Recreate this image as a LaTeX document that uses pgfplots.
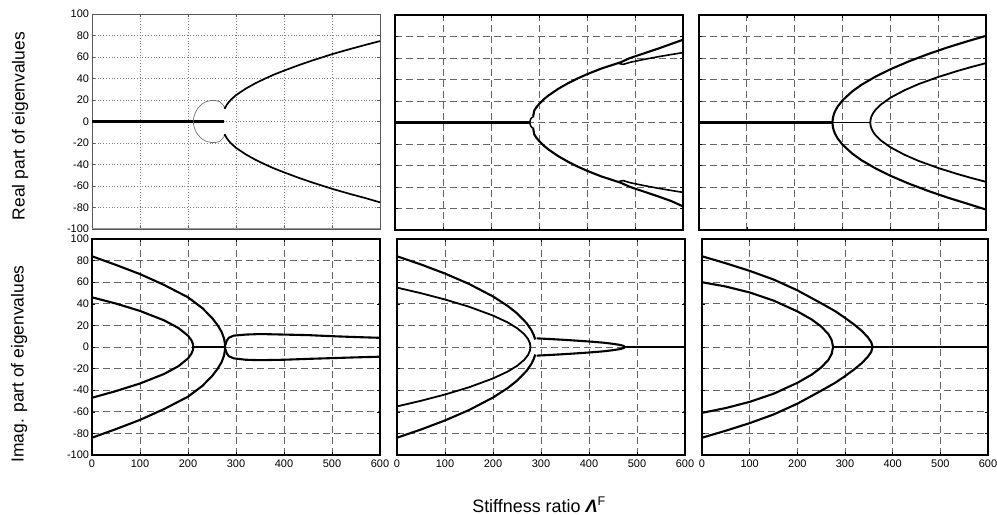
\documentclass[border=0pt]{standalone}
\usepackage{fontspec}
\setmainfont{Liberation Sans}
\usepackage{pgfplots}
\pgfplotsset{compat=1.18}
\pgfplotsset{
  panel/.style={scale only axis, width=288bp, height=215bp,
    xmin=0, xmax=600, ymin=-100, ymax=100,
    xtick={0,100,...,600}, ytick={-100,-80,...,100},
    tick align=inside, major tick length=3bp,
    tick style={black, line width=0.5bp},
    axis line style={black, line width=1.1bp},
    grid=major,
    major grid style={black!60, dash pattern=on 6.5bp off 4.5bp, line width=0.8bp},
    ticklabel style={font=\fontsize{11}{12}\selectfont},
    xticklabel style={yshift=-1bp},
    yticklabel style={xshift=0.5bp},
    /pgf/number format/assume math mode=true,
    anchor=south west},
  nox/.style={xticklabels={}},
  noy/.style={yticklabels={}},
  crv/.style={black, line width=2.1bp, no markers, line join=round},
}
\begin{document}
\begin{tikzpicture}
\path[use as bounding box] (0,0) rectangle (997bp,515bp);

% ---------- top left (real) ----------
\begin{axis}[panel, nox, at={(92bp,286bp)},
  axis line style={black!65, line width=0.6bp},
  tick style={black!65, line width=0.5bp},
  major grid style={black!50, dash pattern=on 0.8bp off 2bp, line width=0.6bp}]
\addplot[black!40, line width=2.2bp] coordinates {(0,-100)(600,-100)};
\addplot[crv, line width=2.4bp] coordinates {(0,0)(275,0)};
\addplot[black!55, line width=0.7bp] coordinates {(211,0)(212,4)(215,8)(220,12)(228,16)(238,18.5)(248,19.5)(258,19.5)(266,18.5)(272,16)(276,13.5)};
\addplot[black!55, line width=0.7bp] coordinates {(211,0)(212,-4)(215,-8)(220,-12)(228,-16)(238,-18.5)(248,-19.5)(258,-19.5)(266,-18.5)(272,-16)(276,-13.5)};
\addplot[crv, line width=1.7bp] coordinates {(276,13.5)(277,12.3)(280,15)(285,18)(290,20.5)(300,24.5)(320,30.5)(340,35.5)(360,39.8)(380,43.8)(400,47.3)(430,52.3)(460,56.9)(500,62.6)(540,67.7)(570,71.3)(600,74.8)};
\addplot[crv, line width=1.7bp] coordinates {(276,-13.5)(277,-12.3)(280,-15)(285,-18)(290,-20.5)(300,-24.5)(320,-30.5)(340,-35.5)(360,-39.8)(380,-43.8)(400,-47.3)(430,-52.3)(460,-56.9)(500,-62.6)(540,-67.7)(570,-71.3)(600,-75.2)};
\end{axis}

% ---------- top middle (real) ----------
\begin{axis}[panel, nox, noy, at={(395bp,285bp)}]
\addplot[crv, line width=2.6bp] coordinates {(0,0)(282,0)};
\addplot[crv, line width=1.5bp] coordinates {(290,5.5)(286,5)(283,3.5)(281.5,1.5)(281,0)(281.5,-1.5)(283,-3.5)(286,-5)(290,-5.5)};
\addplot[crv] coordinates {(288,6)(290,11)(295,14.4)(300,17.1)(310,21.6)(320,25.2)(340,31.3)(360,36.4)(380,40.9)(400,44.9)(430,50.2)(470,56)(490,60)(520,64.5)(550,69)(575,73)(600,77)};
\addplot[crv, line width=1.6bp] coordinates {(466,55)(475,54)(490,56)(520,58.8)(550,61.3)(575,63.2)(600,65)};
\addplot[crv] coordinates {(288,-6)(290,-11)(295,-14.4)(300,-17.1)(310,-21.6)(320,-25.2)(340,-31.3)(360,-36.4)(380,-40.9)(400,-44.9)(430,-50.2)(470,-56)(490,-60)(520,-64.5)(550,-69)(575,-73)(600,-78)};
\addplot[crv, line width=1.6bp] coordinates {(466,-55)(475,-54)(490,-56)(520,-58.8)(550,-61.3)(575,-63.2)(600,-65)};
\end{axis}

% ---------- top right (real) ----------
\begin{axis}[panel, nox, noy, at={(699bp,285bp)}, width=287bp]
\addplot[crv, line width=2.6bp] coordinates {(0,0)(279,0)};
\addplot[crv, line width=1.3bp] coordinates {(279,0)(358,0)};
\addplot[crv] coordinates {(279,0)(280,4.5)(282,7.8)(285,11)(290,14.9)(300,20.6)(320,28.8)(340,35.2)(370,42.9)(400,49.5)(440,57.1)(480,63.8)(520,69.9)(560,75.4)(600,80.6)};
\addplot[crv] coordinates {(279,0)(280,-4.5)(282,-7.8)(285,-11)(290,-14.9)(300,-20.6)(320,-28.8)(340,-35.2)(370,-42.9)(400,-49.5)(440,-57.1)(480,-63.8)(520,-69.9)(560,-75.4)(600,-81)};
\addplot[crv, line width=1.8bp] coordinates {(358,0)(359,3.55)(361,6.15)(365,9.4)(370,12.3)(380,16.65)(400,23)(430,30.1)(460,35.9)(500,42.3)(540,47.9)(570,51.7)(600,55.2)};
\addplot[crv, line width=1.8bp] coordinates {(358,0)(359,-3.55)(361,-6.15)(365,-9.4)(370,-12.3)(380,-16.65)(400,-23)(430,-30.1)(460,-35.9)(500,-42.3)(540,-47.9)(570,-51.7)(600,-55.2)};
\end{axis}

% ---------- bottom left (imag) ----------
\begin{axis}[panel, at={(92bp,60bp)}, height=216bp]
\addplot[crv] coordinates {(0,84)(50,76)(100,67.5)(150,57.5)(200,46)(230,36)(250,27)(262,20)(270,14)(275,8)(277,3)(277.5,0)};
\addplot[crv] coordinates {(0,-84)(50,-76)(100,-67.5)(150,-57.5)(200,-46)(230,-36)(250,-27)(262,-20)(270,-14)(275,-8)(277,-3)(277.5,0)};
\addplot[crv] coordinates {(0,46)(50,40.2)(100,33.4)(150,24.7)(180,17.6)(200,10.5)(207,6.3)(210,3.2)(211,0)};
\addplot[crv] coordinates {(0,-47)(50,-40.8)(100,-33.8)(150,-25)(180,-17.8)(200,-10.6)(207,-6.3)(210,-3.2)(211,0)};
\addplot[crv, line width=1.6bp] coordinates {(211,0)(277,0)};
\addplot[crv] coordinates {(278,2)(279,4)(281,6)(285,8.5)(295,10.5)(320,11.5)(350,12)(400,11.5)(450,11)(500,10)(550,9.2)(600,8.5)};
\addplot[crv] coordinates {(278,-2)(279,-4)(281,-6)(285,-8.5)(295,-10.5)(320,-11.8)(350,-12.2)(400,-11.8)(450,-11)(500,-10.3)(550,-9.6)(600,-9)};
\end{axis}

% ---------- bottom middle (imag) ----------
\begin{axis}[panel, noy, at={(397bp,60bp)}, height=216bp]
\addplot[crv] coordinates {(0,84)(50,76.4)(100,68)(150,58.4)(200,46.8)(230,38.2)(250,31.2)(270,22.1)(280,15.6)(285,11)(288,7)};
\addplot[crv] coordinates {(0,-84)(50,-76.4)(100,-68)(150,-58.4)(200,-46.8)(230,-38.2)(250,-31.2)(270,-22.1)(280,-15.6)(285,-11)(288,-7)};
\addplot[crv, line width=1.8bp] coordinates {(0,55)(50,49.8)(100,44)(150,37.3)(200,29.1)(230,22.9)(250,17.5)(265,11.9)(273,7.4)(277,3.3)(278,0)};
\addplot[crv, line width=1.8bp] coordinates {(0,-55)(50,-49.8)(100,-44)(150,-37.3)(200,-29.1)(230,-22.9)(250,-17.5)(265,-11.9)(273,-7.4)(277,-3.3)(278,0)};
\addplot[crv] coordinates {(291,8)(300,7.8)(330,7.1)(360,6.3)(400,5.1)(430,4)(450,2.95)(465,1.9)(472,1)(475,0)};
\addplot[crv] coordinates {(291,-8)(300,-7.8)(330,-7.1)(360,-6.3)(400,-5.1)(430,-4)(450,-2.95)(465,-1.9)(472,-1)(475,0)};
\addplot[crv, line width=2.4bp] coordinates {(475,0)(600,0)};
\end{axis}

% ---------- bottom right (imag) ----------
\begin{axis}[panel, noy, at={(702bp,60bp)}, height=216bp, width=286bp]
\addplot[crv] coordinates {(0,84)(50,77.5)(100,70.5)(150,62.5)(200,52.5)(250,40.5)(280,33)(300,27)(320,20.5)(335,15)(348,9)(355,4.5)(358,0)};
\addplot[crv] coordinates {(0,-84)(50,-77.5)(100,-70.5)(150,-62.5)(200,-52.5)(250,-40.5)(280,-33)(300,-27)(320,-20.5)(335,-15)(348,-9)(355,-4.5)(358,0)};
\addplot[crv] coordinates {(0,60)(50,56)(100,50.5)(150,43)(200,33)(230,25.5)(250,19)(265,12)(272,6.5)(275,0)};
\addplot[crv] coordinates {(0,-61)(50,-56.5)(100,-50.8)(150,-43.3)(200,-33.2)(230,-25.6)(250,-19)(265,-12)(272,-6.5)(275,0)};
\addplot[crv, line width=2.4bp] coordinates {(275,0)(600,0)};
\end{axis}

% ---------- labels ----------
\node[rotate=90, font=\fontsize{17.5}{20}\selectfont] at (20bp,389bp) {Real part of eigenvalues};
\node[rotate=90, font=\fontsize{17.5}{20}\selectfont] at (19bp,151bp) {Imag. part of eigenvalues};
\node[anchor=base, font=\fontsize{18}{20}\selectfont, inner sep=0pt] at (539bp,3bp) {Stiffness ratio \textbf{\textit{Λ}}\textsuperscript{F}};
\end{tikzpicture}
\end{document}
